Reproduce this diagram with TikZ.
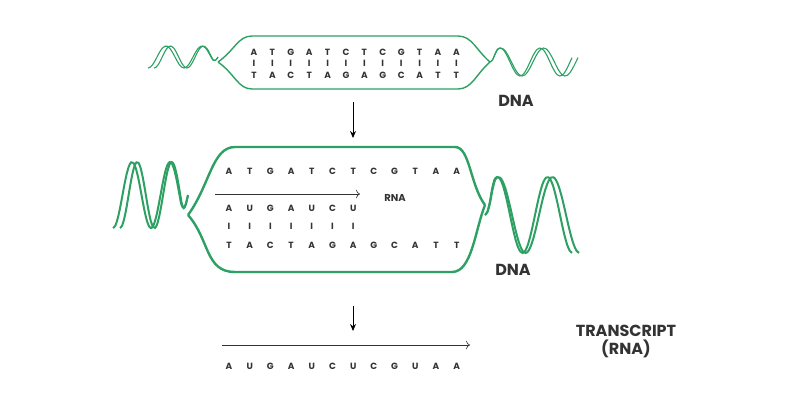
\documentclass[tikz,border=0pt]{standalone}
\usepackage{fontspec}
\setmainfont{Poppins}
\usetikzlibrary{arrows.meta}
\definecolor{dg}{HTML}{2EA064}
\definecolor{tx}{HTML}{333333}
\begin{document}
\begin{tikzpicture}[x=1pt,y=-1pt,
  base/.style={font=\fontsize{9}{9}\selectfont\bfseries,text=tx,inner sep=0pt},
  lbl/.style={font=\fontsize{16}{18}\selectfont\bfseries,text=tx,inner sep=0pt,align=center},
  strand/.style={dg,line width=1.4pt},
  strandb/.style={dg,line width=2.4pt},
  arr/.style={-{Stealth[length=7pt,width=6pt]},line width=1pt,black},
  thin/.style={-{To[length=4pt]},line width=0.6pt,black!80}]
\useasboundingbox (0,0) rectangle (800,400);
% top bubble
\draw[strand] (218,62) .. controls (235,50) and (238,36) .. (252,36) -- (458,36) .. controls (472,36) and (476,50) .. (490,62);
\draw[strand] (218,62) .. controls (235,74) and (238,89) .. (252,89) -- (458,89) .. controls (472,89) and (476,74) .. (490,62);
\foreach \o in {0,6}{
 \draw[strand,line width=1.1pt] plot[smooth,domain=0:70,samples=30] ({148+\o*(1-\x/70)+\x},{57+11*sin(\x*10+90)*min(1,(70-\x)/6)});
 \draw[strand,line width=1.1pt] plot[smooth,domain=0:82,samples=34] ({490+\x+\o*\x/82},{62+14*sin(\x*9+180)*min(1,\x/6)});
}
\foreach \c [count=\i] in {A,T,G,A,T,C,T,C,G,T,A,A}{
 \node[base] (t1\i) at ({254+(\i-1)*18.4},52) {\c};
 \node[base] at ({254+(\i-1)*18.4},63) {I};
}
\foreach \c [count=\i] in {T,A,C,T,A,G,A,G,C,A,T,T}
 \node[base] (t2\i) at ({254+(\i-1)*18.4},75) {\c};
\node[lbl] (dna1) at (516,101) {DNA};
\coordinate (a1s) at (353,102); \coordinate (a1e) at (353,138);
\draw[arr] (a1s) -- (a1e);
% middle bubble
\draw[strandb] (188,215) .. controls (210,185) and (212,147) .. (235,147) -- (455,147) .. controls (470,147) and (470,185) .. (485,205);
\draw[strandb] (188,215) .. controls (210,240) and (205,272) .. (235,272) -- (452,272) .. controls (472,272) and (475,230) .. (485,205);
\foreach \o in {0,7}{
 \draw[strandb,line width=2pt] plot[smooth,domain=0:75,samples=34] ({113+\o*(1-\x/75)+\x},{195+33*sin(\x*9.47+90)*min(1,(75-\x)/7)});
 \draw[strandb,line width=2pt] plot[smooth,domain=0:87,samples=38] ({485+\x+\o*\x/87},{215+38*sin(\x*7.2+180)*min(1,\x/8)});
}
\foreach \c [count=\i] in {A,T,G,A,T,C,T,C,G,T,A,A}
 \node[base] (m1\i) at ({229+(\i-1)*20.7},171) {\c};
\coordinate (ra) at (215,194); \coordinate (rb) at (360,194);
\draw[thin] (ra) -- (rb);
\node[base,font=\fontsize{10}{10}\selectfont\bfseries] (rna) at (395,198) {RNA};
\foreach \c [count=\i] in {A,U,G,A,U,C,U}{
 \node[base] (m2\i) at ({229+(\i-1)*20.7},208) {\c};
 \node[base] at ({229+(\i-1)*20.7},226) {I};
}
\foreach \c [count=\i] in {T,A,C,T,A,G,A,G,C,A,T,T}
 \node[base] (m3\i) at ({229+(\i-1)*20.7},245) {\c};
\node[lbl] (dna2) at (513,270) {DNA};
\coordinate (a2s) at (353,306); \coordinate (a2e) at (353,331);
\draw[arr] (a2s) -- (a2e);
% bottom
\coordinate (ba) at (222,345); \coordinate (bb) at (470,345);
\draw[thin] (ba) -- (bb);
\foreach \c [count=\i] in {A,U,G,A,U,C,U,C,G,U,A,A}
 \node[base] (b\i) at ({229+(\i-1)*20.7},366) {\c};
\node[lbl] (tr) at (626,341) {TRANSCRIPT\\(RNA)};
\end{tikzpicture}
\end{document}
